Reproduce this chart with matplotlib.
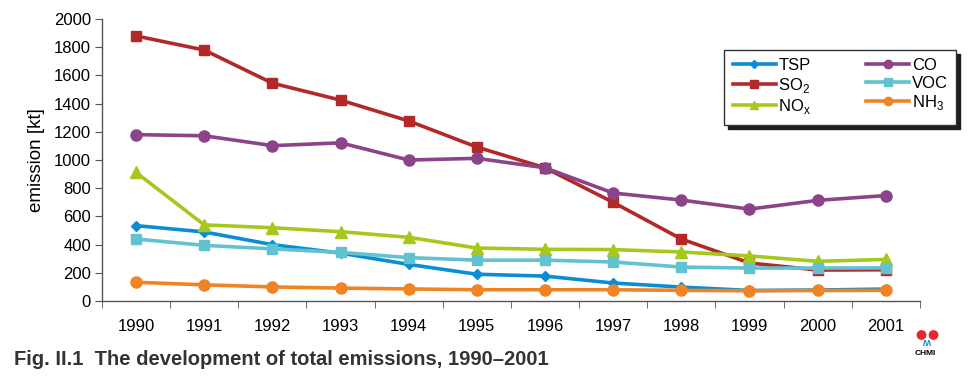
"""
Total emissions 1990-2001 line chart.
"""

import numpy as np
import matplotlib.pyplot as plt
from matplotlib.patches import Circle

plt.rcParams['font.family'] = ['Liberation Sans', 'DejaVu Sans']

years = ['1990', '1991', '1992', '1993', '1994', '1995',
         '1996', '1997', '1998', '1999', '2000', '2001']

tsp = [535, 490, 400, 340, 260, 190, 177, 128, 99, 75, 78, 85]
so2 = [1880, 1780, 1545, 1425, 1277, 1092, 945, 700, 440, 270, 220, 222]
nox = [912, 540, 520, 492, 452, 376, 367, 365, 348, 320, 282, 295]
co = [1180, 1172, 1102, 1122, 1000, 1012, 945, 766, 716, 652, 714, 748]
voc = [440, 395, 370, 345, 308, 290, 290, 277, 241, 234, 234, 235]
nh3 = [133, 115, 100, 92, 86, 80, 80, 80, 76, 73, 75, 76]

# series: label, values, colour, marker, marker size
SERIES = [
    ('TSP', tsp, '#0a8dd3', 'D', 5),
    ('SO$_\\mathregular{2}$', so2, '#b32828', 's', 7),
    ('NO$_\\mathregular{x}$', nox, '#a6c81c', '^', 8),
    ('CO', co, '#8b4489', 'o', 8),
    ('VOC', voc, '#62c2d1', 's', 7),
    ('NH$_\\mathregular{3}$', nh3, '#f08424', 'o', 8),
]

fig = plt.figure(figsize=(9.76, 3.84), dpi=100)
ax = fig.add_axes([0.1045, 0.216, 0.838, 0.7345])

x = np.arange(len(years))
for label, vals, color, marker, ms in SERIES:
    ax.plot(x, vals, color=color, lw=2.6, marker=marker, ms=ms,
            label=label, clip_on=False)

ax.set_xlim(-0.5, len(years) - 0.5)
ax.set_ylim(0, 2000)
ax.set_yticks(range(0, 2001, 200))
ax.set_xticks(x)
ax.set_xticklabels(years)
ax.set_xticks(np.arange(-0.5, len(years)), minor=True)
ax.tick_params(axis='x', which='major', length=0, pad=13, labelsize=12)
ax.tick_params(axis='x', which='minor', length=5, color='#555555')
ax.tick_params(axis='y', length=5, color='#555555', labelsize=12, pad=3)

for side in ['top', 'right']:
    ax.spines[side].set_visible(False)
for side in ['left', 'bottom']:
    ax.spines[side].set_color('#555555')
    ax.spines[side].set_linewidth(1.0)

ax.set_ylabel('emission [kt]', fontsize=13.5, labelpad=6)

leg = ax.legend(ncol=2, loc='upper left', bbox_to_anchor=(0.742, 0.870),
                bbox_transform=fig.transFigure, borderaxespad=0,
                frameon=True, fancybox=False, markerscale=0.75,
                handlelength=2.6, columnspacing=3.3, labelspacing=0.15,
                borderpad=0.5, handletextpad=0.15, fontsize=12,
                shadow={'ox': 3, 'oy': -3, 'facecolor': '#1e1e1e',
                        'edgecolor': '#1e1e1e', 'alpha': 1})
leg.get_frame().set_edgecolor('#333333')
leg.get_frame().set_linewidth(1.0)

fig.text(0.014, 0.049, 'Fig. II.1  The development of total emissions, 1990\u20132001',
         fontsize=14.5, fontweight='bold', va='baseline', color='#333333')

# small CHMI logo
for cx in [9.215, 9.335]:
    fig.patches.append(Circle((cx, 3.84 - 3.35), 0.042,
                              transform=fig.dpi_scale_trans, color='#e8262d'))
fig.text(0.9485, 0.093, '\u028d', fontsize=7.5, fontweight='bold',
         color='#1d8ed6', ha='center', va='bottom')
fig.text(0.9485, 0.071, 'CHMI', fontsize=6, fontweight='bold',
         ha='center', va='bottom')

plt.savefig('out.png', dpi=100)
